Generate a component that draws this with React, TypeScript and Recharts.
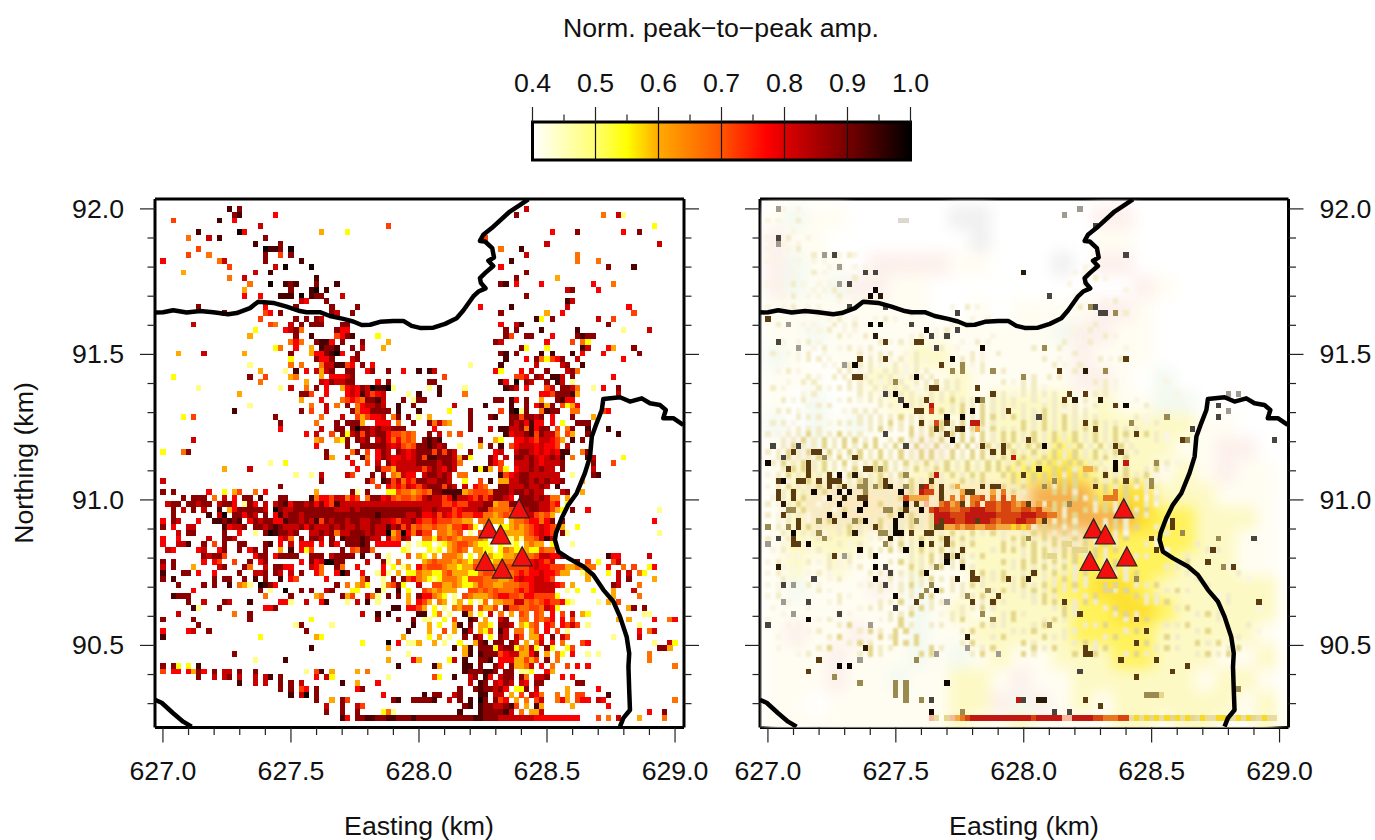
import { ScatterChart, Scatter, XAxis, YAxis, ReferenceArea, ReferenceLine } from "recharts";

// grid of the amplitude maps: column 0 sits at 627.0 E, row 0 at 92.0 N
const CELL_E = 0.02;
const CELL_N = 0.01987;
const E_DOMAIN = [626.969, 629.035];
const N_DOMAIN = [90.218, 92.034];

const eastTicks = [627.0, 627.1, 627.2, 627.3, 627.4, 627.5, 627.6, 627.7, 627.8, 627.9, 628.0, 628.1, 628.2, 628.3, 628.4, 628.5, 628.6, 628.7, 628.8, 628.9, 629.0];
const northTicks = [90.3, 90.4, 90.5, 90.6, 90.7, 90.8, 90.9, 91.0, 91.1, 91.2, 91.3, 91.4, 91.5, 91.6, 91.7, 91.8, 91.9, 92.0];
const colourTicks = [0.4, 0.45, 0.5, 0.55, 0.6, 0.65, 0.7, 0.75, 0.8, 0.85, 0.9, 0.95, 1.0];
const colourDividers = [0.5, 0.6, 0.7, 0.8, 0.9];

const stations = [
  { x: 628.391, y: 90.966 },
  { x: 628.273, y: 90.897 },
  { x: 628.319, y: 90.876 },
  { x: 628.259, y: 90.785 },
  { x: 628.403, y: 90.801 },
  { x: 628.325, y: 90.759 },
];

const northCoastE = [626.97, 627.001, 627.04, 627.093, 627.145, 627.196, 627.255, 627.288, 627.34, 627.372, 627.431, 627.483, 627.535, 627.561, 627.613, 627.652, 627.704, 627.743, 627.776, 627.809, 627.848, 627.9, 627.939, 627.971, 628.004, 628.056, 628.102, 628.147, 628.173, 628.212, 628.232, 628.26, 628.242, 628.238, 628.26, 628.29, 628.271, 628.293, 628.286, 628.258, 628.238, 628.251, 628.284, 628.355, 628.395, 628.427];
const northCoastN = [91.644, 91.645, 91.652, 91.644, 91.649, 91.645, 91.638, 91.642, 91.659, 91.681, 91.677, 91.664, 91.649, 91.645, 91.645, 91.632, 91.622, 91.613, 91.601, 91.602, 91.612, 91.615, 91.615, 91.598, 91.591, 91.592, 91.605, 91.624, 91.651, 91.699, 91.716, 91.727, 91.745, 91.762, 91.781, 91.804, 91.822, 91.833, 91.865, 91.888, 91.89, 91.911, 91.934, 91.991, 92.014, 92.033];
const eastCoastE = [629.032, 628.993, 628.954, 628.964, 628.941, 628.902, 628.87, 628.824, 628.785, 628.72, 628.714, 628.694, 628.675, 628.668, 628.648, 628.616, 628.583, 628.557, 628.535, 628.531, 628.544, 628.583, 628.642, 628.681, 628.72, 628.759, 628.785, 628.811, 628.821, 628.818, 628.821, 628.824, 628.798, 628.785];
const eastCoastN = [91.258, 91.281, 91.281, 91.309, 91.326, 91.332, 91.349, 91.338, 91.353, 91.347, 91.309, 91.264, 91.218, 91.149, 91.092, 91.023, 90.983, 90.937, 90.886, 90.863, 90.822, 90.8, 90.771, 90.742, 90.691, 90.651, 90.599, 90.53, 90.473, 90.427, 90.347, 90.278, 90.25, 90.221];
const cornerCoastE = [626.969, 626.995, 627.04, 627.079, 627.112];
const cornerCoastN = [90.313, 90.303, 90.267, 90.238, 90.221];

// left map, one string per row: "column:levels", levels 1 (pale) .. 9, 0 (black), "." empty
const leftRows = [
  "13:9 15:8 71:7",
  "14:89 22:6 69:8 86:4 89:71",
  "2:5 11:9 14:6",
  "19:7 44:5 96:2",
  "7:9 15:06 31:3 36:2 76:6 81:8 90:6 93:8",
  "5:4 9:7 11:9 20:8 63:5",
  "18:9 23:8 75:7 97:7",
  "7:5 20:0998 25:0 66:4 70:9",
  "5:5 9:4 20:8 23:5 25:8 71:7 81:4",
  "0:6 11:47 20:8 27:9 68:9 81:4 85:4",
  "13:5 22:7 24:0 29:0 66:6 87:8 92:9",
  "4:3 18:7 21:9 71:8",
  "13:4 16:7 30:9 69:8 77:3",
  "17:4 21:0 24:989 30:8 34:9 66:89 69:6 74:6 84:6 88:4",
  "16:3 25:8 29:90 32:9 79:78 85:6",
  "16:6 19:6 23:999 27:0 29:988 35:7 71:8",
  "27:76 32:8 79:97",
  "7:8 20:6 26:8 33:8 38:8 62:6 68:9 79:7 91:6",
  "12:8 20:56 23:8 33:87 37:8 66:8 75:3 78:6 92:5",
  "19:5 26:8 28:8 30:87 73:92 76:8 85:7 88:5",
  "6:7 21:54 25:7 27:8 29:888 35:88 66:6 69:79 87:8",
  "18:2 24:678 27:4 34:866 67:8 69:8 74:9 81:9 90:1 95:7",
  "17:3 26:8 29:9 34:5689 42:2 67:85 71:88 76:6 81:8988",
  "25:464 30:8996 35:8 39:8 44:3 65:87 75:6 80:5 82:42",
  "22:24 26:6 29:3 31:9889 37:8 39:7 43:3 70:82 75:2 82:97 87:63 92:8",
  "3:3 8:7 16:3 25:8 29:3668906 38:8 66:89 69:8 74:9 76:9 80:9 82:6 86:6 93:8",
  "25:2 30:866 33:8 37:78 67:9 71:6 73:842568 81:7 90:6",
  "17:1 25:4 27:4 31:4779956 39:8 41:6 60:1 66:9 73:7 78:78 82:9",
  "19:3 24:1 26:9 28:6 30:7378 36:88 40:68 44:8 47:6 50:9 52:97 65:62 70:6 72:7 75:8 79:784",
  "2:2 17:8 20:5 25:34 31:3 33:6667 37:8 55:5 69:556 73:87 76:997 80:8 88:6",
  "19:4 28:3 31:7687788 42:6 44:8 52:88 66:96 69:0 71:87 75:8 77:97 80:1",
  "7:1 23:1 25:7 28:4 30:8 32:6 35:36768709901 52:1 54:9 59:1 67:987 71:6 75:57 78:8874 84:1 86:6 89:8",
  "15:3 27:885 32:6 36:67697567 48:1 50:9 54:9 59:4 74:66588893 89:7",
  "27:3 31:6 35:456548897 47:8 49:188 65:88 68:96 71:8 74:3 77:8966",
  "17:1 29:4 32:7 34:4 36:8 38:467787 46:9 49:8 57:7 63:9 68:9 71:8 73:6838 78:5236",
  "14:9 27:8 29:5 32:7 37:84668888 46:9 50:9 56:2 60:8 66:5 68:9018 74:4988 80:44 86:56",
  "4:2 6:5 22:8 31:4 35:7 38:535667 45:48 48:8 50:1 52:3 60:8 64:89 68:8858878 76:6 80:8 84:3",
  "23:8 30:4 34:8 36:8883 42:666 46:4 49:8 52:84743 60:8 68:8786966 76:6 78:2 81:888",
  "23:6 31:7 34:88 37:80887877888 53:6 60:8 64:7 66:9977849688 77:5 79:48 83:9 87:9",
  "28:6 30:7 33:5 35:827858788655454 52:8 54:7 56:4 58:5 67:96778958774 79:53 83:8 89:9",
  "6:7 30:34 34:328 38:87 40:8 42:78646454 51:8989 62:8 65:32 69:6676577653 80:9 82:8",
  "30:6 36:8 39:888887675458 51:89878 58:1 62:3 64:8 66:9 68:5677767665 79:7",
  "0:2 4:48 32:8 37:48 40:5 42:687 46:876788858587 60:8 65:67 69:78876767699 82:48",
  "32:83 36:7 39:94 42:6876676785998887382 64:86 67:7 69:8878767879 80:4 83:97 90:2",
  "21:1 24:2 37:6 40:5 42:7 44:867777888878874 64:865 69:7778767778 84:8 88:5",
  "12:3 17:7 38:6 42:8553777775787687 61:9293 66:52 69:67787877 78:8 84:7",
  "26:1 29:1 31:7 36:75 41:8 43:8 45:43766 51:788787 58:44 66:956788777777 80:1 84:8 85:9",
  "0:7 31:8 40:85 43:98574658 51:877887 59:2 62:5 64:9 66:3377887878778 82:3",
  "23:8 42:5 44:6565765 51:7888587 59:7 61:654 66:8877787787 77:9",
  "0:8 2:8 9:6 12:2 14:35 18:4 20:6 30:3 37:81 40:8 44:2254434 51:548899993455548887887877 78:78 82:3",
  "4:8 6:888 10:4 12:7 14:6 16:88 19:9 23:88 29:9466577465 40:48867545545 51:787756977657578876 70:88878744 79:3",
  "1:788 5:88788 11:7886 16:186 20:7 22:78968878686597 36:777777777777777 51:777755655777883448888887756 79:2",
  "2:8 4:7 6:8 8:7 11:9 13:36888887 22:08778888888877787888888888888 51:7787775677788544456778877532 80:8 83:6 97:1",
  "2:8 9:9 11:70 14:88687 20:8 22:697887 28:88888888888888988888778 51:66757656556644345456775453",
  "0:6 2:87 7:6 10:998989 17:6878866988787958788788778877657786 51:5565554433.44333.344566468.8 96:6",
  "0:8 2:6 5:77 12:96778 18:887898777868777878778778779785745 51:44544355652.33.2234345676543 81:2",
  "3:7 5:88 12:8 15:6 18:1 20:8 21:098878 29:7787847788878770350647 51:55.44345.1.53.2.3333456765.8 79:1 97:1",
  "0:6 3:6 9:7 12:887 23:674 27:8 29:887 33:8 35:98889877 44:74587 51:4425454344443.112131445797",
  "0:6 3:779 8:8 10:5 12:8 15:88 20:89 23:6 25:7 27:666 31:6 33:86 36:88898 42:66666 48:1 50:1 51:22.12345543221.2112.3433.2 80:1",
  "1:76 7:67 11:68 15:8 17:68 20:8 23:3 25:9 27:625 35:8 37:54884 47:21 51:.212.3454.3322.24322322544",
  "8:87885 18:688 22:68888 29:888 33:78888 39:9 42:8 44:1 48:5 50:3 51:2.3.4443.2.3.322334444577668 87:966 95:7",
  "0:8 2:8 8:6 10:65 14:5 17:8 19:68 27:6 29:8670088 40:7 43:81 46:4 51:34544434324432334445667657 81:8 83:5 85:2 88:57",
  "0:7 2:8 6:3 11:78 16:84 20:7 22:8866 29:764 34:84 38:6 43:6 45:2 47:1 48:3 50:6 51:4555433233554444555556766555 79:33434 84:4 87:6 90:4 92:5 95:26",
  "0:9 4:88 7:6 10:6 15:8 18:778 22:87 25:7 27:8 30:64 34:608 39:6 42:161 46:3 48:224 51:3322453332245544545656676653 79:3 82:13 87:2 89:7 91:7 93:42",
  "0:8 2:9 10:8 12:88 16:8 18:9 20:8 23:9 25:65 32:6 39:48 43:1 45:8 47:8 48:564 51:32124443255544433467667765 83:3 89:7 91:8 96:3",
  "3:8 8:8 10:8 13:9 15:431 19:0986 34:8 36:4 38:342 43:14582 50:7 51:..55334322354433444556777765 80:3 88:87 93:4",
  "6:6 19:8 21:1 24:0 27:8 29:8 32:78 37:22 42:91 46:9 48:2 51:5434333..55454544456567777 79:1 81:2 84:2 88:3 92:7",
  "2:9888 20:4 25:8 30:34 35:835 40:741 44:8 46:8 48:3 50:8 51:66432.1.5433345665546655552 88:3 93:4",
  "5:8 8:7 12:87 17:9 23:661 28:7 31:69 36:1 38:7 40:9 42:1 48:3 50:6 51:53.43.13.2.14.334477454565567 79:21 85:1 87:3 89:5",
  "6:91 11:8 20:668 45:99 48:665 51:3.2.1.4355.5335.85544554762 91:38 94:8",
  "3:7 14:4 17:8 39:7 42:9 44:9 50:9 51:9.24.1..93.2.7.4.3.54.54.6.5.4 80:7 82:32 94:11",
  "0:8 6:8 17:8 29:2 42:8 46:8 49:8 51:11..2.5..98.3..78..44.5456.7.5 78:6 89:3 91:3 96:6 99:46",
  "7:8 26:18 33:1 49:9 51:.3.2..39.8.332.887.3245.65.6575 83:1 93:1",
  "0:6 5:67 9:8 28:8 48:9 51:.3..5.3.97.325.97.44.35.6.5.7 79:1 93:6 95:47",
  "0:9 19:2 30:32 47:3 51:.2.3.1..8.87.2.87.75.336.8.75 88:1 93:7",
  "39:2 44:0 46:6 48:113 53:3 55:1 58:2 61:3 62:89 65:88 68:87 71:3 73:47 76:6 78:4 82:56 96:1 99:72",
  "29:9 44:3 57:9.39.888278824372.82 79:25 97:883",
  "14:8 48:1 59:39 62:9888 66:5 67:6 68:77 70:33 72:6 73:8 75:3 77:4 78:2 80:6 83:1 85:1 95:4",
  "18:1 24:9 44:3 49:63 56:27 59:9 62:889 66:6 67:66 69:3353 73:5 75:8 77:4 95:4",
  "0:8 2:82 5:2 7:9 46:9 53:93 59:99 62:8 65:86 68:8 69:33 71:4 72:7 74:6 76:4 79:5 81:6 83:6 100:4",
  "0:5 2:66 5:6386 10:8 12:77 15:8 18:8 28:1 30:59 33:3 38:3 40:4 59:98 61:889 64:98 67:88 70:1 71:12 75:6 76:3",
  "7:8 10:7 12:78 15:7 18:7 20:79 23:8 30:6 32:72 44:1 53:52 57:9 60:78 63:96 66:788 70:84 73:77 75:8 78:6 80:6",
  "15:9 18:7 20:7 23:8 25:8 27:7 35:9 38:3 42:6 60:7 62:98 65:7687 70:76 73:88 81:88",
  "23:8 25:8 27:56 30:8 38:68 58:8 61:89 63:88 65:786 69:22 71:8 73:7 79:3 85:6",
  "25:9 27:70 30:8 43:6 51:9 53:88 57:78 62:99 65:77 68:3 70:5 72:764 77:4 79:3 81:55 87:9",
  "30:8 33:3 35:85 45:89 49:88 51:889 56:7 58:8 60:9 62:08 65:856 69:3 71:4 73:57 77:46 79:3 81:566 85:76 100:4",
  "32:7 35:8 38:75 59:89 62:988 65:7789 69:5 71:3 73:93 80:3 87:6",
  "32:8 35:8 38:8 43:241 58:9 62:98888 67:97 70:4 72:33 74:7 95:6 98:8",
  "35:96 38:8899889988898 51:8888888888998887777777666666666 85:5 87:4 89:7 93:3 98:4",
];

// right map: pale 4x4 blocks of background, faint single cells, then the strong cells on top
const fieldRows = [
  "cgcc.....hh.....pp.......",
  "pcc.......h.....cc.......",
  "pgcc.ppppcc...h.pp.......",
  "pgcgppcc..........pc.....",
  "cccccccc..c.ccccppc......",
  "ccgcccccccccccgppcc......",
  "gc.ccccllccccccpccc......",
  "ccc.cllcclcccccppc.g.....",
  "c.g.ccllllcllllclccgg....",
  "g.gcgccclccllllllllllcc..",
  "cpgccccppcclllylllllccpp.",
  "cllcclclllllyyYylllclcpcc",
  "cloooooooooooOOOyYYlllccc",
  "clooooooollooOOOOOYyylllc",
  "cllllcclllllllooYyyyyllcc",
  "clclccclcclllllyyyyylllcc",
  "cgcccpcgccllllyyYYyllllll",
  "cccccccgclcllllyyYYylllll",
  "cpccpccgcclllllyyyylllllc",
  "cccpcccgcgclcclllyylllccl",
  "cccpccgccllcpccllllllcllc",
  "cc.ccccccllpgpclcllllllcl",
  "ccccccccclcclccccllcllccl",
];

const mottleRows = [
  "3:m..m", "", "0:m.m...n", "", "5:m", "0:m.m.n...m", "3:m..m", "0:m...m.n", "9:n.m..m.nm", "0:m.m...m..m.m",
  "12:m.n..m.m 62:m.n", "2:m..m...n.m 60:m.m", "17:n..m.m 64:n.m", "0:m.m..n.m..m.m 59:m..n", "9:m.m.n..m 70:m", "3:m.n..m.m...n 60:m", "14:m..m.n.m 66:m.n", "0:m..m.n..m.m 36:m..n.m 61:n", "5:m.m..n.m.m 28:n.m 70:n", "12:m.n..m...m.n.m 40:m..m",
  "2:n.m..m.m...n.m.n 36:m..n 62:m.n", "8:m.m.n..m.m 33:m.n.m 60:m..n", "14:n.m..n.m 28:m.n..m.n 44:m 66:n.m", "3:m..m.n.m 22:n.m.n.m 38:m..n.m 58:n..m.n", "9:m.n..m.n.m.n 32:m.n..m 52:n.m..n 70:m", "1:n..m.m.n..m 18:n.m.n.n..m.n 40:n.m..n 60:n.m", "6:m.n.n.m 20:n.n.m.n..n.m 38:n.n.m 54:n..m 65:n.m.n", "11:m.m.n 16:n.n.n.m..n.m.n 36:m.n.m.n 56:n.m..n", "2:m.n.m 14:n.n.m.n..n.n.m.n.n 42:n.m.n 60:n.n.m.n", "8:n.m..n.n.m.n..n.n.m.n.n.n 50:m.n..n.n",
  "4:m..n.n 16:n.n.n.m.n.n..n.n.m.n.n 46:n.m.n.n 64:n.n.m 78:m", "1:n.m 10:n.m.n.n.n..n.n.n.n.m.n.n.n.n 50:n.n.m 66:n.m", "7:m.n 18:n.n.m.n.n.n.m.n.n.n 44:n.n.m.n.n.n.n 64:n.n 80:m", "3:n.m.n 14:m.n.m.n.n 28:n.n.n.n.b.n.n.n.n.n.n 52:n.m.n.n.m.n 72:m", "8:m.n.n 22:n.n.m.n.n 36:n.b.n.b.n.n.n.n 54:n.n.n.n.m.n 74:n", "2:n.n.m 15:m.n.n.n 30:n.n.b.n.b.n.b.n.n 50:n.n.b.n.m.n.n 78:m", "6:n.n.n 18:n.n.n.n.b.n.n 38:b.n.b.b.n.b.n.n.b.n.b.n.n.n 72:n.m", "1:n.n.m 12:m.n.n.n.n.n.b.n.n.b.n.b.n.b.n.b.n 50:b.n.b.n.b.n.n.b.n.n 74:m.n", "4:m.n.n.n 20:n.b.n.n.b.n.b.b.n.b.b.n.b.n.n.b.n.b.n.b.n.b.n.n.b.n.n", "0:n.m.n.n.b.n.n.b.n.n 28:b.n.b.n.b.b.n.b.n.b.b.n.b.n.b.n.b.n.b.n.b.b.n.b.n 76:n.m",
  "3:n.n.b.n.b.n.b.b.n.b 24:n.b.n.b.n.b.n.b.b.b.n.b.b.n.b.n.b.n.b.n.b.n.b.n 76:n.m", "1:m.n.b.n.n.b.n.b.n.b.b.n.b.n.b.n.b.n.b.b.n.b.n.b.n.b.b.n.b.n.b.n.b.n.b.n", "0:n.n.b.n.b.n.b.n.b.b.n.b.n.b.n.b.b.n.b.n.b.b.b.n.b.n.b.n.b.n.b.n.b.n.b.n.n", "2:n.b.n.n.b.n.b.n.b.n.b.n.b.n.b.b.n.b.n.b.b.n.b.n.b.n.b.b.n.b.n.b.b.n.b", "1:n.b.n.b.n.b.n.b.n.n.b.b.n.b.n.b.n.b.n.b.n.b.b.n.b.n.b.b.n.b.b.n.n 76:b.n.m", "3:n.b.b.n.b.n.n.b.n.b.b.n.n.b.n.b.b.n.b.n.b.b.b.n.b 56:b.b.n.b.b.n.b.b 74:n.b.m", "0:m.n.b.n.b.n.b.n.b.n.n.b.n.b 32:b.n.b.n.b.b 46:b.b.n.b.b.b.n.b.b 66:b.n.b.n.b.m", "2:n.m.n.b.n.b.n.n.b.n.b.n.n.b.n.b.n 38:b.n.b 48:b.n.b.b.n.b.b 64:b.n.b.n.b.n.m", "0:m.n.b.n.n.b.n.b.n.b.n.b 26:n.b.n.b 34:n.b 44:b.b.n.b 54:b.n.b.b 64:n.b.n.b.m.n", "3:n.b.n.n.b.n.m.n.b.n.n 28:b.n.b 36:n.b 46:n.b.n 56:b.b.n 66:b.n.b 74:n.m",
  "1:m.n.n.b.n.m.n.b.n 24:n.b.n 34:b 44:n.b 60:b.n.b 68:n.b.n.m.n", "0:n.m.n.b.n.m.n.n 22:b.n.n 34:n.b 54:n.b.b 64:n.b.n.b 74:n.m", "3:m.n.b.n.n.m.b.n 24:n.b.n.b.n.b.n.b 44:n.n.b 56:b.n 62:b.n.b.n 72:n.b", "0:n.m.n.n.m.n.b.n 22:n.b.n.b.n.b.n.b.n.b.n 46:n.b.n 58:n.b 70:n.b.n", "2:m.n.n.m.n.b.n.n.b.n.b 26:n.b.n.b.n.b.n.b 44:n.n.b.n.b 54:n.n.b.n 66:n.b.n 78:m", "0:m.n.m.n.b.n 14:n.b.n.n.b.n.n.b.n.b 38:n.n.b 48:n.b.n.b 56:b.n.b 66:n.b.n.b 76:n", "3:n.m.n.n.m 14:n.b.n.m.n.n.b 32:n.n.b.n.b.n.b.n 50:n.b.b.n.b.n.b.n.b.n.m 78:n", "0:n.m.n 8:m.n.n 20:m.n.b.n.n.b.n.b.n.b.n 46:n.b.b.n.b.b.n.b.b.n.b.n.b 76:n", "3:m.n.m 14:n.m.n 24:n.b.n.b.n.n.b.n.b 46:b.n.b.b.n.b.b.n.b.n.b.n 74:n.m 84:n", "1:m.n 8:m.n 18:m.n.n.b.n.n.b.n.b.n.b 44:n.b.b.n.b.b.n.b.b.n.b.n.b.n 78:m 86:n.n",
  "4:m.m 12:n.m.n.m.n 28:n.n.b.n.b.n.n.b 50:n.b.b.n.b.b.n.b.n 72:n.n 82:n", "0:m.n 8:n.m.n.m.n 24:n.b.n.n.b.n.n.b 46:b.n.b.b.n.b.n.b.n 66:n.b.n 80:n.b", "3:m.m 12:n.m.m.n 28:b.n.n.b.n.b.n 48:n.b.n.b.n.b.n.b 66:n.b.n 78:n.n 90:m", "0:m.n 8:m.n.m 20:n.n.b.n.n.b 40:n.b.n.b 50:n.b.n.b.n.n.b 68:n.n.b 82:n 92:n", "3:n.m 12:m.n 24:n.m.n.n.b.n.n 42:n.n.b.n.b 54:n.n.b.n.n 70:n.b 84:n 94:m", "0:m.m 8:n.m 18:m.n.n.m.n.b.n 36:n.n.b.n 48:n.b.n.b.n.n.b.n 72:n.n.b 86:n", "2:m 10:n.m 22:n.m.n.n 34:b.n.n 44:n.b.n.n.b.n.b.n.n 68:n.b 78:n.b.n", "0:m.n 14:n.m 26:m.n.n.b 38:n.n.b 50:n.n.b.n 62:n.b 72:b.n.n 88:m.n", "4:m 12:m.n 22:n.n.b 32:n.n 42:n.b.n 52:n.b.b 60:n.b.n 74:n.n.b 90:n", "1:m 8:m 18:m.n.n 28:n.b.n 38:n.n.b.n 56:n.b.n 66:n.b 80:n.b 96:m",
  "3:m 14:n.m 24:n.n.b 34:m.n.n 46:n.b.n 58:b.n 68:n.b.n 84:n.b.n", "0:m 10:m.n 22:m.n.b 36:n.b 44:n.n.b 54:n.b.n 70:n.n.b 88:n", "4:m.m 14:n.b 26:b.n 32:n.n 42:b.n.n 52:n.b 62:n.n.b 78:n.n.b 94:n", "8:m.n 18:n.b.n 25:b.b 27:b 38:n.b 48:n.n.b 58:n.n 70:n.b.n 84:n.b 96:m", "2:m 12:n.b 22:b.n 25:b 29:b 44:n.b 54:b.n.n 66:n.b 78:b.n 92:n", "6:m 16:n.b.n 25:b 27:b 29:b 38:n.b 50:b.n 60:n.b.n 72:n.b 84:b.n.b", "2:m 10:n.b 20:b.n.n 32:b.n 42:n.b 52:b.n.b 64:n.b 76:n.b.n 90:n.b", "6:m.n 18:n.b.n 30:b.b 40:n.b 50:b.n 60:b.n.b 70:n.b.n 84:n.b.n.b",
];

const rightRows = [
  "2:g 61:g", "58:g", "26:hh", "64:f", "", "2:f", "2:g", "", "11:g 13:f 70:f", "",
  "14:g", "19:f 21:f 50:e", "", "14:g 16:f", "21:k", "20:k 22:e 55:f", "", "16:f 23:f 63:c 64:f", "37:f 65:ff 68:c", "0:d",
  "4:g 20:k 22:k 28:f", "31:k 37:f", "21:e 32:f 35:f", "2:f 23:d 29:dd", "6:g 33:f 42:k 54:c", "", "18:d 23:d 36:k 70:d", "15:g 17:k 34:d 38:c", "36:c 38:c 44:c 57:d 62:e 66:c", "17:dd 29:k 50:c",
  "25:c 33:a", "32:dd 41:d", "23:f 25:k 44:d 59:d 62:d 90:g 92:g", "26:f 31:d 41:ec 58:d 60:e 65:e", "27:k 32:R 68:d 70:k 88:f", "29:dd 32:r 40:k 47:d 90:g", "35:k 38:k 53:f 78:c 88:f", "30:d 33:r 35:d 40:RR 62:d 71:c", "33:d 37:d 38:e 41:o 64:d 83:f", "23:f 35:d 72:d",
  "36:k 51:d 81:dc 99:f", "1:f 6:f 27:f 42:d 46:d 54:k 68:d", "5:d 9:dd 44:d 46:d 69:d", "3:f 11:c 17:d 48:R", "0:k 8:d 68:k 70:R 76:c", "4:d 8:d 19:dd 22:c 53:e 62:oo 68:k", "8:d 12:d 14:k 17:e 27:c 33:R 50:d 66:d", "2:dk 6:dd 10:d 12:dd 14:d 19:c 23:d 32:d 56:c 70:d 75:c", "12:d 15:d 18:cc 21:c 23:de 27:c 30:dR 34:d 37:o 42:d 44:dd 54:c 64:d 75:c", "2:d 5:d 9:k 14:k 16:k 19:c 26:k 30:Rrr 34:d 38:o 39:dd 44:o 46:O 68:O",
  "2:d 5:d 12:k 15:e 18:dd 27:r 28:oo 30:oo 34:d 36:O 38:O 40:OO 42:r 44:O 46:r 48:O 66:OOO", "3:e 14:k 19:k 27:k 29:d 31:s 34:Or 36:oO 38:d 40:Or 43:rr 45:Or 47:rO 49:oO 51:d 53:o 55:o 59:c", "4:cc 18:k 23:cc 27:d 30:k 32:rRrrOOrrRRRrrOrrOOrrOr", "3:d 12:k 15:k 26:k 33:RRRrrrRRRRRRrrrrrRRRrrOO", "6:d 10:c 13:d 17:c 19:k 25:k 29:c 33:RdRRrrRRdRRrOrrrRRrrod 79:d", "0:c 4:c 6:d 21:d 25:k 33:ddooOoOOooOOoooYoYo 79:d", "5:k 10:c 17:e 22:cc 25:kk 28:d 31:dd 81:c", "2:f 5:d 11:c 24:e 35:d 51:c 75:d 88:c 95:f", "0:g 5:dd 8:k 23:c 30:k 32:d 35:d 58:bb", "18:k 27:k 38:d 60:bbb 76:d 87:d",
  "13:d 15:g 21:k 35:e 37:e 55:bb", "35:k 86:d", "2:e 21:k 23:f 33:c 38:k 89:c 91:d", "24:f 31:k 40:d 52:d", "9:f 21:k 37:e 40:dd 47:d 51:e 72:c", "3:f 5:g 23:f 32:c 66:b 68:b", "31:c 33:k 43:c 66:bb 70:b", "25:k 30:c 39:c 45:d", "3:g 8:f 29:d 35:g 40:d 44:d 58:d 96:d", "25:f",
  "5:g 14:f 42:c 61:d", "8:k 44:c 72:d", "0:f 20:g 55:c", "74:d", "39:e", "72:d", "19:e 39:g 62:d", "33:g 45:g 62:dd", "10:d 18:g 29:c 69:d 76:d", "14:k 16:k 82:d",
  "8:d 61:f 79:d", "13:c 72:d", "18:c 25:c 27:c 35:k", "25:c 27:c 92:c", "25:c 27:c 74:cccb", "27:c 30:c 32:f 49:R 50:f 53:ee 62:d", "65:d", "32:k 38:c 56:f 59:f",
  "32:s 33:a 35:b 36:s 37:o 38:O 39:rRRRRRRRRRRRRrRRRRR 58:ss 60:RRRR 64:rr 66:OOO 69:rr 71:aYaYbYaYbYaYbaYaaYYbaYaYbaYaa",
];

const leftColours: Record<string, string> = {
  "1": "#ffff88", "2": "#ffff00", "3": "#ffa800", "4": "#ff7000", "5": "#ff4000",
  "6": "#fa0000", "7": "#c80000", "8": "#8a0000", "9": "#480000", "0": "#100000",
};
const rightColours: Record<string, string> = {
  k: "#100800", e: "#2a1a08", d: "#5a3c10", c: "#9a8a50", b: "#e4d68c", a: "#e8dca0",
  f: "#4a4440", g: "#a09a90", h: "#dcd8d0", R: "#c01810", r: "#d84410", O: "#e87820",
  o: "#f4a840", Y: "#fad820", s: "#f8b8a0", m: "#faf5e4", n: "#f3ecc8",
};
const fieldColours: Record<string, string> = {
  c: "#fffdf2", p: "#fdf0ec", g: "#f3f9f0", h: "#f0f0f0", l: "#fdf9c4",
  y: "#fff25a", Y: "#fde030", o: "#fdeac0", O: "#f5b050",
};

type Cell = { x: number; y: number; code: string };

const parseRows = (rows: string[]): Cell[] => {
  const cells: Cell[] = [];
  rows.forEach((row, r) => {
    row.split(" ").filter(Boolean).forEach((token) => {
      const [col, run] = token.split(":");
      [...run].forEach((code, i) => {
        if (code !== ".") {
          cells.push({ x: 627 + (Number(col) + i) * CELL_E, y: 92 - r * CELL_N, code });
        }
      });
    });
  });
  return cells;
};

const parseField = (rows: string[]): Cell[] => {
  const cells: Cell[] = [];
  rows.forEach((row, i) => {
    [...row].forEach((code, j) => {
      if (code !== ".") {
        cells.push({ x: 627 + (4 * j + 1.5) * CELL_E, y: 92 - (4 * i + 1.5) * CELL_N, code });
      }
    });
  });
  return cells;
};

const zip = (xs: number[], ys: number[]) => xs.map((x, i) => ({ x, y: ys[i] }));

const leftCells = parseRows(leftRows);
const mottleCells = parseRows(mottleRows);
const rightCells = parseRows(rightRows);
const fieldCells = parseField(fieldRows);

const FONT = "'Liberation Sans', Arial, sans-serif";
const FONT_SIZE = 26.7;

const isMajor = (v: number) => Math.round(v * 10) % 5 === 0;

const makeTick = (side: "top" | "bottom" | "left" | "right", labelled: boolean) => (p: any) => {
  const v = p.payload.value;
  const len = isMajor(v) ? 15 : 7.5;
  const dx = side === "left" ? -len : side === "right" ? len : 0;
  const dy = side === "top" ? -len : side === "bottom" ? len : 0;
  let label = null;
  if (labelled && isMajor(v)) {
    const common = { fontFamily: FONT, fontSize: FONT_SIZE, fill: "#111" };
    if (side === "bottom") label = <text x={p.x} y={p.y + 52} textAnchor="middle" {...common}>{v.toFixed(1)}</text>;
    if (side === "left") label = <text x={p.x - 31} y={p.y + 9} textAnchor="end" {...common}>{v.toFixed(1)}</text>;
    if (side === "right") label = <text x={p.x + 31} y={p.y + 9} textAnchor="start" {...common}>{v.toFixed(1)}</text>;
  }
  return (
    <g>
      <line x1={p.x} y1={p.y} x2={p.x + dx} y2={p.y + dy} stroke="#222" strokeWidth={1.2} />
      {label}
    </g>
  );
};

const colourTick = (p: any) => {
  const v = p.payload.value;
  const major = Math.round(v * 100) % 10 === 0;
  return (
    <g>
      <line x1={p.x} y1={p.y} x2={p.x} y2={p.y - (major ? 15 : 7.5)} stroke="#222" strokeWidth={1.2} />
      {major && (
        <text x={p.x} y={p.y - 30} textAnchor="middle" fontFamily={FONT} fontSize={FONT_SIZE} fill="#111">
          {v.toFixed(1)}
        </text>
      )}
    </g>
  );
};

const noMark = () => <g />;

const leftCell = (p: any) => (
  <rect x={p.cx - 2.6} y={p.cy - 2.93} width={5.2} height={5.86} fill={leftColours[p.payload.code]} shapeRendering="crispEdges" />
);
const rightCell = (p: any) => (
  <rect x={p.cx - 2.6} y={p.cy - 2.93} width={5.2} height={5.86} fill={rightColours[p.payload.code]} shapeRendering="crispEdges" />
);
const fieldCell = (p: any) => (
  <rect x={p.cx - 10.6} y={p.cy - 11.9} width={21.2} height={23.8} fill={fieldColours[p.payload.code]} />
);
const triangle = (p: any) => (
  <polygon
    points={`${p.cx},${p.cy - 11} ${p.cx - 10},${p.cy + 8} ${p.cx + 10},${p.cy + 8}`}
    fill="#f40f0f"
    stroke="#222"
    strokeWidth={1.2}
  />
);

const COAST_LINE = { stroke: "#000", strokeWidth: 4.5, strokeLinejoin: "round" };
const FRAME = { stroke: "#000", strokeWidth: 3 };

function MapPanel({ left, right, labelSide, cells, cellShape, field, mottle }: any) {
  return (
    <div style={{ position: "absolute", left: 0, top: 0 }}>
      <ScatterChart width={1375} height={840} margin={{ left, right, top: 198, bottom: 111.5 }}>
        <XAxis xAxisId={0} dataKey="x" type="number" domain={E_DOMAIN} ticks={eastTicks} interval={0} height={1} tickSize={0} tickMargin={0} allowDataOverflow tick={makeTick("bottom", true)} axisLine={FRAME} tickLine={false} />
        <XAxis xAxisId="top" orientation="top" type="number" domain={E_DOMAIN} ticks={eastTicks} interval={0} height={1} tickSize={0} tickMargin={0} allowDataOverflow tick={makeTick("top", false)} axisLine={FRAME} tickLine={false} />
        <YAxis yAxisId={0} dataKey="y" type="number" domain={N_DOMAIN} ticks={northTicks} interval={0} width={1} tickSize={0} tickMargin={0} allowDataOverflow tick={makeTick("left", labelSide === "left")} axisLine={FRAME} tickLine={false} />
        <YAxis yAxisId="right" orientation="right" type="number" domain={N_DOMAIN} ticks={northTicks} interval={0} width={1} tickSize={0} tickMargin={0} allowDataOverflow tick={makeTick("right", labelSide === "right")} axisLine={FRAME} tickLine={false} />
        {field && <Scatter className="soft-field" data={field} shape={fieldCell} isAnimationActive={false} />}
        {mottle && <Scatter className="soft-mottle" data={mottle} shape={cellShape} isAnimationActive={false} />}
        <Scatter data={cells} shape={cellShape} isAnimationActive={false} />
        <Scatter data={zip(northCoastE, northCoastN)} shape={noMark} line={COAST_LINE} isAnimationActive={false} />
        <Scatter data={zip(eastCoastE, eastCoastN)} shape={noMark} line={COAST_LINE} isAnimationActive={false} />
        <Scatter data={zip(cornerCoastE, cornerCoastN)} shape={noMark} line={COAST_LINE} isAnimationActive={false} />
        <Scatter data={stations} shape={triangle} isAnimationActive={false} />
      </ScatterChart>
    </div>
  );
}

function ColourBar() {
  return (
    <div style={{ position: "absolute", left: 0, top: 0 }}>
      <ScatterChart width={1375} height={200} margin={{ left: 532.5, right: 464.5, top: 121, bottom: 40 }}>
        <defs>
          <linearGradient id="heat" x1="0" x2="1" y1="0" y2="0">
            <stop offset="0%" stopColor="#ffffff" />
            <stop offset="16.7%" stopColor="#ffff70" />
            <stop offset="25%" stopColor="#ffff00" />
            <stop offset="33.3%" stopColor="#ffaa00" />
            <stop offset="50%" stopColor="#ff5500" />
            <stop offset="62%" stopColor="#ff0000" />
            <stop offset="66.7%" stopColor="#dd0000" />
            <stop offset="83.3%" stopColor="#770000" />
            <stop offset="100%" stopColor="#000000" />
          </linearGradient>
        </defs>
        <XAxis dataKey="x" type="number" orientation="top" domain={[0.4, 1]} ticks={colourTicks} interval={0} height={1} tickSize={0} tickMargin={0} tick={colourTick} tickLine={false} axisLine={false} />
        <YAxis dataKey="y" type="number" domain={[0, 1]} hide />
        <Scatter data={[{ x: 0.4, y: 0 }]} shape={noMark} isAnimationActive={false} />
        <ReferenceArea x1={0.4} x2={1} y1={0} y2={1} fill="url(#heat)" fillOpacity={1} stroke="#000" strokeWidth={3} />
        {colourDividers.map((v) => (
          <ReferenceLine key={v} x={v} stroke="#111" strokeWidth={1.2} />
        ))}
      </ScatterChart>
    </div>
  );
}

export default function App() {
  return (
    <div style={{ position: "absolute", left: 0, top: 0, width: 1375, height: 840, background: "#fff" }}>
      <style>{".soft-field{filter:blur(7px);}.soft-mottle{filter:blur(0.8px);}"}</style>
      <MapPanel left={154} right={690} labelSide="left" cells={leftCells} cellShape={leftCell} />
      <MapPanel left={759} right={85.5} labelSide="right" cells={rightCells} cellShape={rightCell} field={fieldCells} mottle={mottleCells} />
      <ColourBar />
      <svg width={1375} height={840} style={{ position: "absolute", left: 0, top: 0, pointerEvents: "none" }}>
        <g fontFamily={FONT} fontSize={FONT_SIZE} fill="#111" textAnchor="middle">
          <text x={721} y={37}>Norm. peak−to−peak amp.</text>
          <text x={419} y={835}>Easting (km)</text>
          <text x={1024} y={835}>Easting (km)</text>
          <text transform="translate(33,463) rotate(-90)">Northing (km)</text>
        </g>
      </svg>
    </div>
  );
}
